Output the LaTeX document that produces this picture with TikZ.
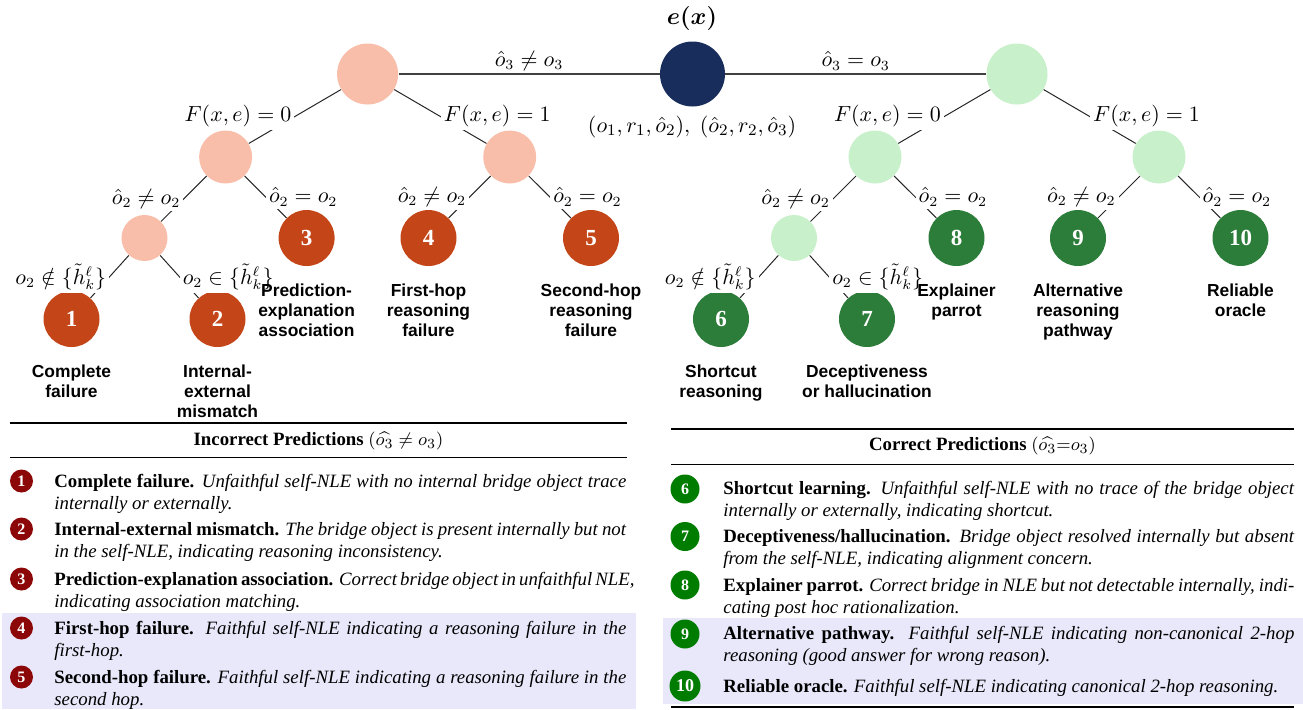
\documentclass[tikz,border=0pt]{standalone}
\usepackage{amsmath,amssymb}
\usepackage{fontspec}
\setmainfont{Liberation Serif}
\setsansfont{Liberation Sans}
\definecolor{cpink}{RGB}{248,190,170}
\definecolor{corange}{RGB}{196,70,24}
\definecolor{cnavy}{RGB}{24,45,92}
\definecolor{clgreen}{RGB}{200,240,202}
\definecolor{cdgreen}{RGB}{44,124,58}
\definecolor{ctred}{RGB}{140,8,8}
\definecolor{ctgreen}{RGB}{0,125,0}
\definecolor{clav}{RGB}{232,232,250}
\newcommand{\mbi}[1]{{\usefont{OML}{cmm}{b}{it}#1}}
\newcommand{\mbr}[1]{{\usefont{OT1}{cmr}{bx}{n}#1}}
\begin{document}
\begin{tikzpicture}[x=0.5pt,y=-0.5pt,
  edge/.style={draw=black!85, line width=0.5pt},
  topedge/.style={draw=black!75, line width=0.75pt},
  elab/.style={fill=white, inner sep=1.5pt, font=\fontsize{10.5}{12}\selectfont},
  tlab/.style={font=\sffamily\bfseries\fontsize{8.7}{10}\selectfont, align=center, inner sep=0pt, anchor=north},
  bnode/.style={circle, inner sep=0pt},
  leaf/.style={circle, inner sep=0pt, minimum size=28pt, text=white, font=\bfseries\fontsize{11.5}{12}\selectfont},
  tcirc/.style={circle, inner sep=0pt, text=white, font=\bfseries\fontsize{8}{8}\selectfont},
  ttext/.style={anchor=base west, inner sep=0pt, font=\fontsize{9.4}{11}\selectfont},
  thead/.style={inner sep=0pt, font=\fontsize{9.4}{11}\selectfont},
]
\useasboundingbox (0,0) rectangle (1303,709);

% ---------- shading of the tables ----------
\fill[clav] (2,613) rectangle (636,709);
\fill[clav] (663,618) rectangle (1303,704);

% ---------- tree nodes ----------
\node[bnode, fill=cpink, minimum size=30.5pt] (pr) at (367.6,74) {};
\node[bnode, fill=cnavy, minimum size=32.5pt] (ex) at (692.5,74) {};
\node[bnode, fill=clgreen, minimum size=30.5pt] (gr) at (1017,74) {};
\node[font=\fontsize{11.5}{12}\selectfont] (exl) at (692,18) {\mbi{e}\mbr{(}\mbi{x}\mbr{)}};
\node[font=\fontsize{11.2}{12}\selectfont] (tup) at (692,127) {$(o_1,r_1,\hat{o}_2),\;(\hat{o}_2,r_2,\hat{o}_3)$};

\node[bnode, fill=cpink, minimum size=26.5pt] (pL) at (225.6,157) {};
\node[bnode, fill=cpink, minimum size=26.5pt] (pR) at (509.7,157) {};
\node[bnode, fill=clgreen, minimum size=26.5pt] (gL) at (875,157) {};
\node[bnode, fill=clgreen, minimum size=26.5pt] (gR) at (1159,157) {};

\node[bnode, fill=cpink, minimum size=23pt] (ps) at (144.5,238) {};
\node[leaf, fill=corange] (n3) at (306.6,238) {3};
\node[leaf, fill=corange] (n4) at (428.5,238) {4};
\node[leaf, fill=corange] (n5) at (591,238) {5};
\node[bnode, fill=clgreen, minimum size=23pt] (gs) at (794,238) {};
\node[leaf, fill=cdgreen] (n8) at (956.5,238) {8};
\node[leaf, fill=cdgreen] (n9) at (1078,238) {9};
\node[leaf, fill=cdgreen] (n10) at (1240.5,238) {10};

\node[leaf, fill=corange] (n1) at (71.5,319) {1};
\node[leaf, fill=corange] (n2) at (217.5,319) {2};
\node[leaf, fill=cdgreen] (n6) at (721,319) {6};
\node[leaf, fill=cdgreen] (n7) at (867,319) {7};

% ---------- edges ----------
\draw[topedge] (pr) -- node[elab, above] (lt1) {$\hat{o}_3 \neq o_3$} (ex);
\draw[topedge] (ex) -- node[elab, above] (lt2) {$\hat{o}_3 = o_3$} (gr);

\draw[edge] (pr) -- node[elab, anchor=east] (la1) {$F(x,e)=0$} (pL);
\draw[edge] (pr) -- node[elab, anchor=west] (la2) {$F(x,e)=1$} (pR);
\draw[edge] (gr) -- node[elab, anchor=east] (la3) {$F(x,e)=0$} (gL);
\draw[edge] (gr) -- node[elab, anchor=west] (la4) {$F(x,e)=1$} (gR);

\draw[edge] (pL) -- node[elab, anchor=east] (lb1) {$\hat{o}_2 \neq o_2$} (ps);
\draw[edge] (pL) -- node[elab, anchor=west] (lb2) {$\hat{o}_2 = o_2$} (n3);
\draw[edge] (pR) -- node[elab, anchor=east] (lb3) {$\hat{o}_2 \neq o_2$} (n4);
\draw[edge] (pR) -- node[elab, anchor=west] (lb4) {$\hat{o}_2 = o_2$} (n5);
\draw[edge] (gL) -- node[elab, anchor=east] (lb5) {$\hat{o}_2 \neq o_2$} (gs);
\draw[edge] (gL) -- node[elab, anchor=west] (lb6) {$\hat{o}_2 = o_2$} (n8);
\draw[edge] (gR) -- node[elab, anchor=east] (lb7) {$\hat{o}_2 \neq o_2$} (n9);
\draw[edge] (gR) -- node[elab, anchor=west] (lb8) {$\hat{o}_2 = o_2$} (n10);

\draw[edge] (ps) -- node[elab, anchor=east] (lc1) {$o_2 \notin \{\tilde{h}_k^\ell\}$} (n1);
\draw[edge] (ps) -- node[elab, anchor=west] (lc2) {$o_2 \in \{\tilde{h}_k^\ell\}$} (n2);
\draw[edge] (gs) -- node[elab, anchor=east] (lc3) {$o_2 \notin \{\tilde{h}_k^\ell\}$} (n6);
\draw[edge] (gs) -- node[elab, anchor=west] (lc4) {$o_2 \in \{\tilde{h}_k^\ell\}$} (n7);

% ---------- leaf captions ----------
\node[tlab] (d3) at (306.6,283.3) {Prediction-\\explanation\\association};
\node[tlab] (d4) at (428.5,283.3) {First-hop\\reasoning\\failure};
\node[tlab] (d5) at (591,283.3) {Second-hop\\reasoning\\failure};
\node[tlab] (d8) at (956.5,283.3) {Explainer\\parrot};
\node[tlab] (d9) at (1078,283.3) {Alternative\\reasoning\\pathway};
\node[tlab] (d10) at (1240.5,283.3) {Reliable\\oracle};
\node[tlab] (d1) at (71.5,364.7) {Complete\\failure};
\node[tlab] (d2) at (217.5,364.7) {Internal-\\external\\mismatch};
\node[tlab] (d6) at (721,364.7) {Shortcut\\reasoning};
\node[tlab] (d7) at (867,364.7) {Deceptiveness\\or hallucination};

% ---------- left table ----------
\draw[line width=1pt] (10,423) -- (627,423);
\node[thead] (hL) at (318.5,441) {\textbf{Incorrect Predictions} $(\widehat{o_3}\neq o_3)$};
\draw[line width=0.5pt] (10,457.6) -- (627,457.6);

\node[tcirc, fill=ctred, minimum size=11.5pt] (c1) at (21.5,481) {1};
\node[tcirc, fill=ctred, minimum size=11.5pt] (c2) at (21.5,529) {2};
\node[tcirc, fill=ctred, minimum size=11.5pt] (c3) at (21.5,579) {3};
\node[tcirc, fill=ctred, minimum size=11.5pt] (c4) at (21.5,628) {4};
\node[tcirc, fill=ctred, minimum size=11.5pt] (c5) at (21.5,677) {5};

\node[ttext] (t1) at (54,487) {\vtop{\hbox to 286pt{\textbf{Complete failure.} \textit{Unfaithful self-NLE with no internal bridge object trace}}\hbox{\textit{internally or externally.}}}};
\node[ttext] (t2) at (54,535.5) {\vtop{\hbox to 286pt{\textbf{Internal-external mismatch.} \textit{The bridge object is present internally but not}}\hbox{\textit{in the self-NLE, indicating reasoning inconsistency.}}}};
\node[ttext] (t3) at (54,585) {\vtop{\hbox to 286pt{\textbf{Prediction-explanation association.} \textit{Correct bridge object in unfaithful NLE,}}\hbox{\textit{indicating association matching.}}}};
\node[ttext] (t4) at (54,634) {\vtop{\hbox to 286pt{\textbf{First-hop failure.} \textit{Faithful self-NLE indicating a reasoning failure in the}}\hbox{\textit{first-hop.}}}};
\node[ttext] (t5) at (54,683) {\vtop{\hbox to 286pt{\textbf{Second-hop failure.} \textit{Faithful self-NLE indicating a reasoning failure in the}}\hbox{\textit{second hop.}}}};

% ---------- right table ----------
\draw[line width=1pt] (671,428.5) -- (1294,428.5);
\node[thead] (hR) at (982.5,446) {\textbf{Correct Predictions} $(\widehat{o_3}{=}o_3)$};
\draw[line width=0.5pt] (671,464) -- (1294,464);

\node[tcirc, fill=ctgreen, minimum size=14.5pt] (c6) at (685,489) {6};
\node[tcirc, fill=ctgreen, minimum size=14.5pt] (c7) at (685,536.5) {7};
\node[tcirc, fill=ctgreen, minimum size=14.5pt] (c8) at (685,585) {8};
\node[tcirc, fill=ctgreen, minimum size=14.5pt] (c9) at (685,634) {9};
\node[tcirc, fill=ctgreen, minimum size=15.5pt, font=\bfseries\fontsize{9}{9}\selectfont] (c10) at (685,686) {10};

\node[ttext] (t6) at (723,494) {\vtop{\hbox to 285.5pt{\textbf{Shortcut learning.} \textit{Unfaithful self-NLE with no trace of the bridge object}}\hbox{\textit{internally or externally, indicating shortcut.}}}};
\node[ttext] (t7) at (723,542) {\vtop{\hbox to 285.5pt{\textbf{Deceptiveness/hallucination.} \textit{Bridge object resolved internally but absent}}\hbox{\textit{from the self-NLE, indicating alignment concern.}}}};
\node[ttext] (t8) at (723,591) {\vtop{\hbox to 285.5pt{\textbf{Explainer parrot.} \textit{Correct bridge in NLE but not detectable internally, indi-}}\hbox{\textit{cating post hoc rationalization.}}}};
\node[ttext] (t9) at (723,639.5) {\vtop{\hbox to 285.5pt{\textbf{Alternative pathway.} \textit{Faithful self-NLE indicating non-canonical 2-hop}}\hbox{\textit{reasoning (good answer for wrong reason).}}}};
\node[ttext] (t10) at (723,692) {\textbf{Reliable oracle.} \textit{Faithful self-NLE indicating canonical 2-hop reasoning.}};

\draw[line width=1pt] (671,706.5) -- (1294,706.5);
\end{tikzpicture}
\end{document}
